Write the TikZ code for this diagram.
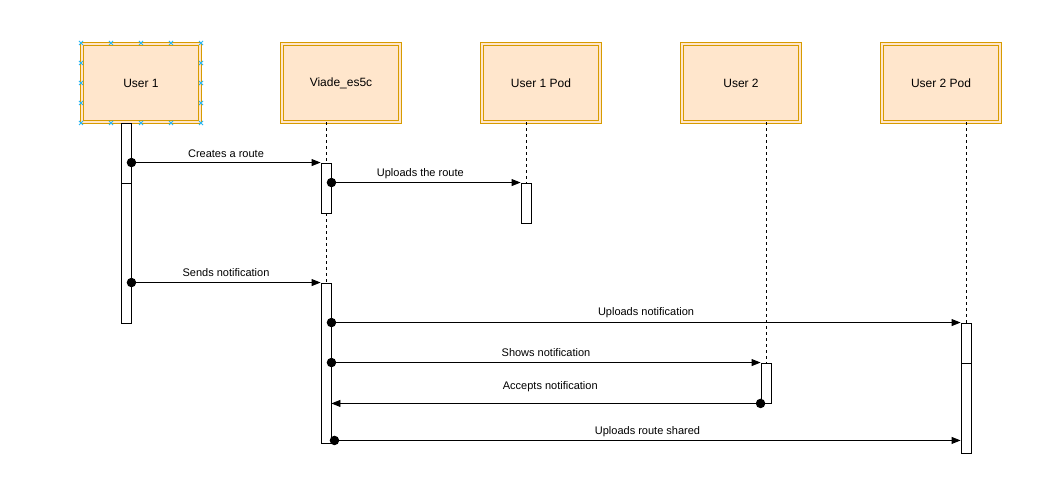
\documentclass[tikz,border=0pt]{standalone}
\usepackage{fontspec}
\setmainfont{Liberation Sans}
\usetikzlibrary{arrows.meta,calc}
\definecolor{boxc}{HTML}{D79B00}
\definecolor{boxfill}{HTML}{FFE6CC}
\definecolor{selblue}{HTML}{29B6F2}
\begin{document}
\begin{tikzpicture}[x=1pt,y=-1pt,
  actor/.style={draw=boxc, fill=boxfill, double=boxfill, double distance=2pt, line width=0.6pt,
    minimum width=118pt, minimum height=78pt, inner sep=0pt, font=\fontsize{12}{14}\selectfont},
  act/.style={draw=black, fill=white, line width=0.9pt, minimum width=10pt, inner sep=0pt},
  life/.style={draw=black, line width=0.7pt, dash pattern=on 3pt off 3pt},
  msg/.style={draw=black, line width=0.9pt, {Circle[length=9.4pt,width=9.4pt]}-{Triangle[length=9pt,width=7pt]}, shorten <=-4.7pt},
  lbl/.style={font=\fontsize{11}{13}\selectfont, inner sep=0pt},
  sel/.style={draw=selblue, line width=0.8pt}
]
\useasboundingbox (0,0) rectangle (1056,486);
\fill[white] (0,0) rectangle (1056,486);

% actors
\node[actor] (u1) at (141,83) {User 1};
\node[actor] (viade) at (341,83) {Viade\_es5c};
\node[actor] (p1) at (541,83) {User 1 Pod};
\node[actor] (u2) at (741,83) {User 2};
\node[actor] (p2) at (941,83) {User 2 Pod};

% activation boxes
\node[act, minimum height=60pt] (a1a) at (126,153) {};
\node[act, minimum height=140pt] (a1b) at (126,253) {};
\node[act, minimum height=50pt] (v1) at (326,188) {};
\node[act, minimum height=160pt] (v2) at (326,363) {};
\node[act, minimum height=40pt] (pa) at (526,203) {};
\node[act, minimum height=40pt] (ua) at (766,383) {};
\node[act, minimum height=40pt] (p2a) at (966,343) {};
\node[act, minimum height=90pt] (p2b) at (966,408) {};

% lifelines
\draw[life] (viade.south -| v1.north) -- (v1.north);
\draw[life] (v1.south) -- (v2.north);
\draw[life] (p1.south -| pa.north) -- (pa.north);
\draw[life] (u2.south -| ua.north) -- (ua.north);
\draw[life] (p2.south -| p2a.north) -- (p2a.north);

% messages
\draw[msg] (a1a.east |- v1.north west) -- node[lbl, pos=0.5, yshift=8.5pt] {Creates a route} (v1.north west);
\draw[msg] (v1.east |- pa.north west) -- node[lbl, pos=0.47, yshift=9pt] {Uploads the route} (pa.north west);
\draw[msg] (a1b.east |- v2.north west) -- node[lbl, pos=0.5, yshift=9.5pt] {Sends notification} (v2.north west);
\draw[msg] (v2.east |- p2a.north west) -- node[lbl, pos=0.5, yshift=9.5pt] {Uploads notification} (p2a.north west);
\draw[msg] (v2.east |- ua.north west) -- node[lbl, pos=0.5, yshift=9.5pt] {Shows notification} (ua.north west);
\draw[msg] (ua.south west) -- node[lbl, pos=0.49, yshift=17pt] {Accepts notification} (v2.east |- ua.south west);
\coordinate (m7) at ([yshift=13pt]p2b.south west);
\draw[msg] ([xshift=3pt]v2.east |- m7) -- node[lbl, pos=0.5, yshift=9pt] {Uploads route shared} (m7);

% selection handles on User 1
\foreach \x in {81,111,141,171,201} {
  \draw[sel] (\x,43) +(-2,-2) -- +(2,2) +(-2,2) -- +(2,-2);
  \draw[sel] (\x,123) +(-2,-2) -- +(2,2) +(-2,2) -- +(2,-2);
}
\foreach \y in {63,83,103} {
  \draw[sel] (81,\y) +(-2,-2) -- +(2,2) +(-2,2) -- +(2,-2);
  \draw[sel] (201,\y) +(-2,-2) -- +(2,2) +(-2,2) -- +(2,-2);
}
\end{tikzpicture}
\end{document}
